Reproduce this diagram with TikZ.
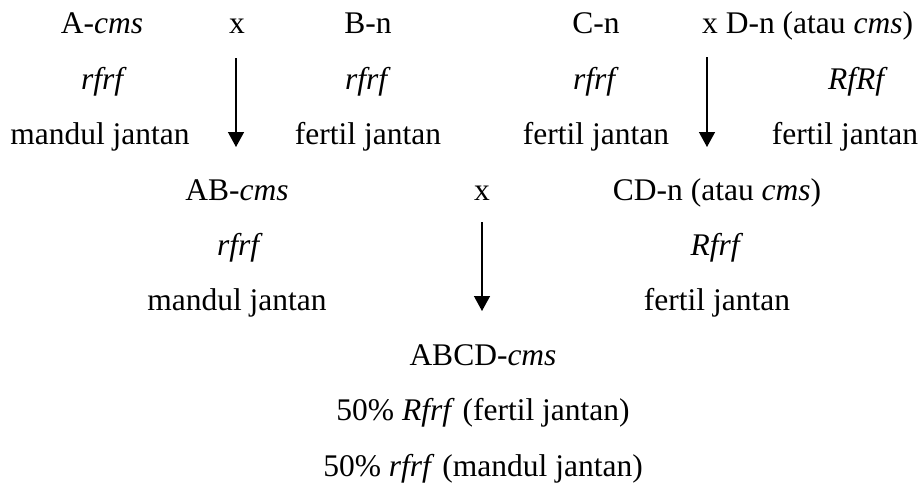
\documentclass[tikz,border=0pt]{standalone}
\usepackage{fontspec}
\setmainfont{Liberation Serif}
\usetikzlibrary{arrows.meta}
\tikzset{
  txt/.style={anchor=base, inner sep=0pt, font=\fontsize{31.5}{36}\selectfont},
  txtw/.style={anchor=base west, inner sep=0pt, font=\fontsize{31.5}{36}\selectfont},
  cross/.style={line width=1.4pt, -{Triangle[width=16pt,length=15pt]}}
}
\begin{document}
\begin{tikzpicture}[x=1pt,y=-1pt]
\useasboundingbox (0,0) rectangle (922,485);
% row block 1
\node[txt] (a1) at (102,33) {A-\textit{cms}};
\node[txt] (x1) at (237,33) {x};
\node[txt] (b1) at (368,33) {B-n};
\node[txt] (c1) at (596,33) {C-n};
\node[txtw] (d1) at (702,33) {x D-n (atau \textit{cms})};
\node[txt] (a2) at (104,89) {\textit{rfrf}};
\node[txt] (b2) at (368,89) {\textit{rfrf}};
\node[txt] (c2) at (596,89) {\textit{rfrf}};
\node[txt] (d2) at (858,89) {\textit{RfRf}};
\node[txt] (a3) at (100,144) {mandul jantan};
\node[txt] (b3) at (368,144) {fertil jantan};
\node[txt] (c3) at (596,144) {fertil jantan};
\node[txt] (d3) at (845,144) {fertil jantan};
% row block 2
\node[txt] (ab1) at (237,200) {AB-\textit{cms}};
\node[txt] (x2) at (482,200) {x};
\node[txt] (cd1) at (717,200) {CD-n (atau \textit{cms})};
\node[txt] (ab2) at (240,255) {\textit{rfrf}};
\node[txt] (cd2) at (717,255) {\textit{Rfrf}};
\node[txt] (ab3) at (237,310) {mandul jantan};
\node[txt] (cd3) at (717,310) {fertil jantan};
% row block 3
\node[txt] (abcd1) at (483,365) {ABCD-\textit{cms}};
\node[txt] (abcd2) at (483,420) {50\% \textit{Rfrf} (fertil jantan)};
\node[txt] (abcd3) at (483,476) {50\% \textit{rfrf} (mandul jantan)};
% arrows
\coordinate (s1) at (236,58);
\coordinate (e1) at (236,147);
\coordinate (s2) at (707,57);
\coordinate (e2) at (707,147);
\coordinate (s3) at (482,222);
\coordinate (e3) at (482,311);
\draw[cross] (s1) -- (e1);
\draw[cross] (s2) -- (e2);
\draw[cross] (s3) -- (e3);
\end{tikzpicture}
\end{document}
